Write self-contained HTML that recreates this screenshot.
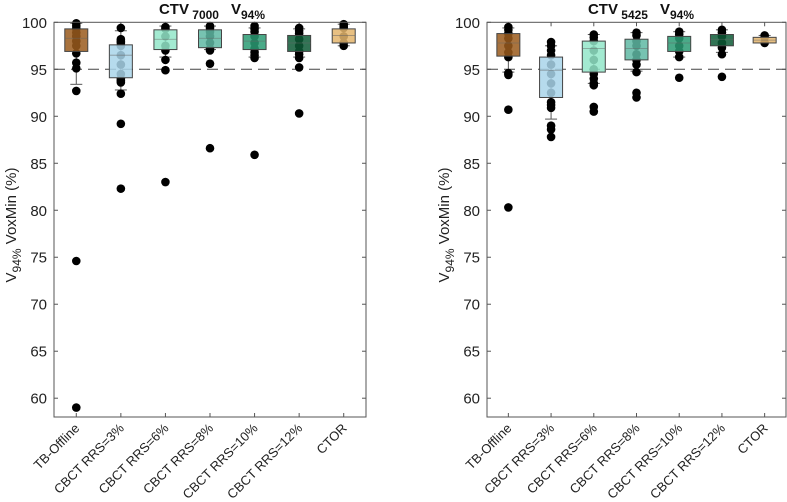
<!DOCTYPE html>
<html><head><meta charset="utf-8"><style>
body{margin:0;background:#fff;}
svg{display:block;font-family:"Liberation Sans",Arial,sans-serif;}
</style></head><body>
<svg id="chart" width="787" height="502"></svg>
<script>
const categories=["TB-Offline","CBCT RRS=3%","CBCT RRS=6%","CBCT RRS=8%","CBCT RRS=10%","CBCT RRS=12%","CTOR"];
const colors=["#9a5a1c","#a9d5ea","#93e6c9","#5fb8a3","#2a9b73","#0d5b36","#e4b56c"];
const yTicks=[60,65,70,75,80,85,90,95,100];
// left panel: [q1, median, q3, whiskerLo, whiskerHi]
const leftBoxes=[[96.9,98.3,99.3,93.4,99.9],[94.1,96.5,97.6,92.8,99.1],[97.1,98.2,99.2,96.3,99.6],[97.3,98.3,99.2,97.1,99.6],[97.1,98.0,98.7,96.3,99.4],[96.9,97.8,98.6,96.3,99.3],[97.8,98.6,99.3,97.5,99.8]];
const leftPoints=[[99.9,99.6,99.3,98.9,98.5,98,97.5,96.7,95.7,95.1,92.7,74.6,59.0],[99.4,98.2,98,97.8,97.5,96.5,95.5,94.5,94,93.8,93.6,92.4,89.2,82.3],[99.5,99.3,98.5,97.5,97.0,96.0,94.9,83.0],[99.6,99.4,99,98.5,97.8,97.2,97.0,95.6,86.6],[99.6,99.3,99,98.5,97.8,97.2,96.8,96.5,96.2,85.9],[99.4,99.1,98.8,98.2,97.5,96.9,96.6,96.2,95.2,90.3],[99.8,99.6,99.4,98.5,97.8,97.5]];
const rightBoxes=[[96.4,97.8,98.8,94.7,99.4],[92.0,94.9,96.3,89.7,97.5],[94.7,97.2,98.0,93.5,98.7],[96.0,97.2,98.2,94.8,98.9],[96.9,97.8,98.5,96.3,99.0],[97.5,98.2,98.7,96.8,99.2],[97.8,98.1,98.4,97.8,98.6]];
const rightPoints=[[99.5,99.2,98.8,98.3,97.5,96.8,96.3,94.6,94.4,90.7,80.3],[97.9,97.5,97.0,96.5,95.5,94.5,93.5,92.5,91.5,91.2,90.9,89.0,88.6,87.8],[98.7,98.4,98,97,96,95,94.5,94.0,93.5,93.3,91.0,90.5],[98.9,98.6,98,97.5,96.6,96,95.5,94.7,92.5,92.0],[99,98.7,98.3,97.5,96.9,96.3,94.1],[99.2,98.9,98.5,97.8,97.3,96.6,94.2],[98.6,98.4,97.8]];
const threshold=95;

const NS="http://www.w3.org/2000/svg";
const svg=document.getElementById('chart');
function mk(tag,attrs,parent){const e=document.createElementNS(NS,tag);for(const k in attrs)e.setAttribute(k,attrs[k]);(parent||svg).appendChild(e);return e;}

function panel(x0,x1,boxes,points,titleNum,titleX,pname){
  const g=mk('g',{});
  
  
  const top=22.3,bot=417,ymin=58,ymax=100;
  const y=v=>top+(ymax-v)*(bot-top)/(ymax-ymin);
  const step=(x1-x0)/categories.length;
  const x=i=>x0+step*(i+0.5);
  const bw=23;
  yTicks.forEach(t=>{
    mk('line',{x1:x0,x2:x0+4,y1:y(t),y2:y(t),stroke:'#555'},g);
    mk('line',{x1:x1-4,x2:x1,y1:y(t),y2:y(t),stroke:'#555'},g);
    const tx=mk('text',{x:x0-7,y:y(t)+5.5,'text-anchor':'end','font-size':15,fill:'#222'},g);
    tx.textContent=t;
    
    
  });
  const th=mk('line',{x1:x0,x2:x1,y1:y(threshold),y2:y(threshold),stroke:'#444','stroke-dasharray':'11,6','stroke-width':1},g);
  
  
  categories.forEach((c,i)=>{
    const cx=x(i);
    mk('line',{x1:cx,x2:cx,y1:bot,y2:bot-4,stroke:'#555'},g);
    mk('line',{x1:cx,x2:cx,y1:top,y2:top+4,stroke:'#555'},g);
    const b=boxes[i];
    const w=mk('g',{},g);
    
    
    mk('line',{x1:cx,x2:cx,y1:y(b[4]),y2:y(b[3]),stroke:'#555'},w);
    mk('line',{x1:cx-6,x2:cx+6,y1:y(b[4]),y2:y(b[4]),stroke:'#555'},w);
    mk('line',{x1:cx-6,x2:cx+6,y1:y(b[3]),y2:y(b[3]),stroke:'#555'},w);
    points[i].forEach(v=>{
      const p=mk('circle',{cx:cx,cy:y(v),r:4.3,fill:'#000'},g);
      
      
    });
    const r=mk('rect',{x:cx-bw/2,y:y(b[2]),width:bw,height:y(b[0])-y(b[2]),fill:colors[i],'fill-opacity':0.85,stroke:'#444','stroke-width':1},g);
    
    
    mk('line',{x1:cx-bw/2,x2:cx+bw/2,y1:y(b[1]),y2:y(b[1]),stroke:'#666','stroke-width':0.8,'stroke-opacity':0.6},g);
    const lx=cx+4,ly=bot+12;
    const t=mk('text',{x:lx,y:ly,'text-anchor':'end','font-size':13,fill:'#222',transform:`rotate(-45 ${lx} ${ly})`},g);
    t.textContent=c;
    
    
  });
  const f=mk('rect',{x:x0,y:top,width:x1-x0,height:bot-top,fill:'none',stroke:'#555','stroke-width':1},g);
  
  
  const tt=mk('text',{x:titleX,y:14,'font-size':15,'font-weight':'bold',fill:'#111','text-anchor':'middle'},g);
  
  
  tt.innerHTML=`CTV<tspan font-size="12" dy="5"> ${titleNum}</tspan><tspan dy="-5" dx="12">V</tspan><tspan font-size="12" dy="5">94%</tspan>`;
  const yl=mk('text',{x:0,y:0,'font-size':15,fill:'#222','text-anchor':'middle',transform:`translate(${x0-38},225) rotate(-90)`},g);
  
  
  yl.innerHTML=`V<tspan font-size="12" dy="5">94%</tspan><tspan dy="-5"> VoxMin (%)</tspan>`;
}
panel(54,366,leftBoxes,leftPoints,"7000",212,'left-panel');
panel(487,786,rightBoxes,rightPoints,"5425",641,'right-panel');
</script>
</body></html>
